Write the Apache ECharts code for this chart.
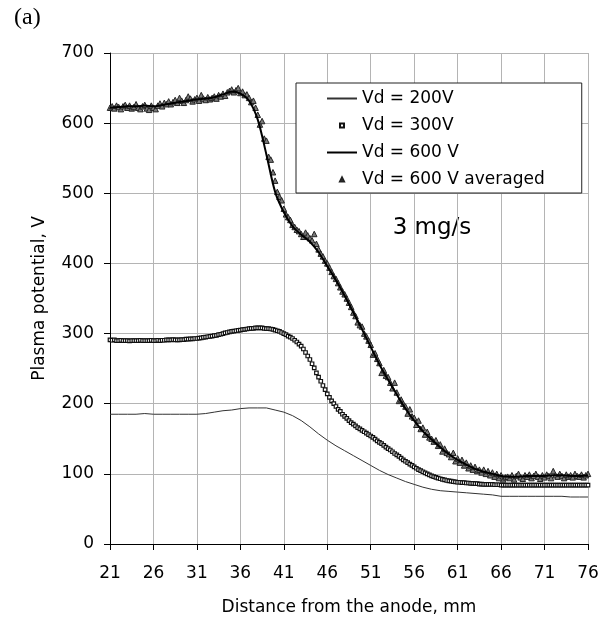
<!DOCTYPE html>
<html><head><meta charset="utf-8">
<script src="https://cdn.jsdelivr.net/npm/echarts@6/dist/echarts.min.js"></script>
<style>html,body{margin:0;padding:0;background:#fff}#c{width:608px;height:618px}</style>
</head><body><div id="c"></div>
<script>
// ---- data ----
const seriesNames = ['Vd = 200V', 'Vd = 300V', 'Vd = 600 V', 'Vd = 600 V averaged'];

// 1 mm sampled distances (mm) for the two solid lines
const distLine = [21,22,23,24,25,26,27,28,29,30,31,32,33,34,35,36,37,38,39,40,
  41,42,43,44,45,46,47,48,49,50,51,52,53,54,55,56,57,58,59,60,
  61,62,63,64,65,66,67,68,69,70,71,72,73,74,75,76];

// Vd = 200V (thin line)
const v200 = [185,185,185,185,186,185,185,185,185,185,
  185,186,188,190,191,193,194,194,194,191,
  188,183,176,167,157,148,140,133,126,119,
  112,105,99,94,89,85,81,78,76,75,
  74,73,72,71,70,68,68,68,68,68,
  68,68,68,67,67,67];

// Vd = 600 V (thick line)
const v600 = [622,623,624,624,625,624,626,628,630,632,
  634,635,637,641,645,642,632,605,555,502,
  473,453,441,431,416,396,376,354,330,306,
  281,256,234,213,193,176,161,149,138,128,
  120,113,107,103,100,97,96,96,97,97,
  97,98,98,97,97,98];

// markers are sampled every 0.25 mm from 21 to 76 mm
const markerStart = 21, markerStep = 0.25;

// Vd = 300V (open squares)
const v300 = [
  291,290.5,291,290, 290,290.5,290,290, 290,289.5,290,290, 290,290,290.5,290,
  290,290,290,290.5, 290,290,290.5,290, 290.5,290.5,291,291, 291,291.5,291,291,
  291,291.5,291.5,292, 292,292.5,292.5,293, 293,293.5,294,294.5, 295,295.5,296,296.5,
  297,297.5,298.5,299, 300,301,301.5,302.5, 303,303.5,304,304.5, 305,305.5,306,306.5,
  307,307.5,307.5,308, 308,308,308,307.5, 307,307,306.5,306, 305,304,303,301.5,
  300,298.5,296.5,295, 293,290.5,288,285, 282,278,273,268, 263,257,251,244,
  238,232,226,220, 214,209,204,200, 196,192,189,185, 182,179,176,173,
  171,168.5,166,164, 162,160,158,156, 154,152,149.5,147, 145,143,140.5,138,
  136,134,131.5,129, 127,125,122.5,120, 118,116,114,112, 110,108,106,104.5,
  103,101.5,100,98.5, 97,96,95,94, 93,92,91.5,90.5, 90,89.5,89,88.5,
  88,88,87.5,87.5, 87,87,86.5,86.5, 86,86,85.5,85.5, 85,85,85,85,
  85,84.5,84.5,84.5, 84,84,84,84, 84,84,84,84, 84,84,84,84,
  84,84,84,84, 84,84,84,84, 84,84,84,84, 84,84,84,84,
  84,84,84,84, 84,84,84,84, 84,84,84,84, 84];

// Vd = 600 V averaged (triangles)
const v600avg = [
  622,624,621,625, 623,620,624,626, 622,625,621,623, 627,622,620,624,
  626,621,619,625, 622,620,625,628, 624,629,627,631, 627,630,633,629,
  636,632,629,633, 638,635,631,634, 636,632,640,635, 633,637,634,636,
  638,635,640,638, 642,639,644,646, 648,644,647,650, 643,645,640,641,
  636,630,632,622, 612,598,603,578, 575,552,548,530, 518,502,495,490,
  478,470,466,462, 455,452,448,446, 442,438,444,440, 436,433,442,428,
  420,414,410,404, 400,394,388,382, 378,372,366,360, 356,350,344,338,
  330,325,316,312, 310,300,296,290, 284,270,272,264, 258,244,248,240,
  238,230,222,230, 216,204,206,200, 196,186,192,182, 180,170,176,164,
  166,156,160,152, 150,146,148,140, 142,132,136,130, 128,124,130,118,
  122,116,120,112, 116,108,112,106, 110,104,106,102, 106,100,104,98,
  102,96,100,94, 98,92,95,96, 94,98,92,97, 100,95,93,98,
  96,99,94,97, 100,96,93,98, 95,99,97,94, 104,98,96,100,
  97,94,99,96, 98,95,100,97, 96,99,95,98, 100];

// axis ranges / ticks
const xMin = 21, xMax = 76, xTickStep = 5;
const yMin = 0, yMax = 700, yTickStep = 100;

// ---- build ----
const pairs = (xs, ys) => ys.map((y, i) => [xs[i], y]);
const markerDist = v300.map((_, i) => markerStart + i * markerStep);

const FONT = 'DejaVu Sans';
const chart = echarts.init(document.getElementById('c'), null, {renderer: 'canvas'});
chart.setOption({
  animation: false,
  backgroundColor: '#fff',
  textStyle: {fontFamily: FONT},
  grid: {left: 110, right: 20, top: 53, bottom: 74, containLabel: false, outerBoundsMode: 'none'},
  legend: {
    left: 296, top: 83, orient: 'vertical',
    padding: [7, 37, 5, 30],
    itemGap: 10, itemWidth: 30, itemHeight: 5,
    backgroundColor: '#fff', borderColor: '#222', borderWidth: 1,
    textStyle: {fontFamily: FONT, fontSize: 17, color: '#000'},
    data: [
      {name: seriesNames[0], itemStyle: {opacity: 0}},
      {name: seriesNames[1]},
      {name: seriesNames[2], itemStyle: {opacity: 0}},
      {name: seriesNames[3]}
    ]
  },
  xAxis: {
    type: 'value', min: xMin, max: xMax, interval: xTickStep,
    name: 'Distance from the anode, mm', nameLocation: 'middle', nameGap: 55,
    nameTextStyle: {fontFamily: FONT, fontSize: 17, color: '#000'},
    axisLine: {show: true, onZero: false, lineStyle: {color: '#000', width: 1}},
    axisTick: {show: true, inside: false, length: 6, lineStyle: {color: '#000'}},
    axisLabel: {fontFamily: FONT, fontSize: 17, color: '#000', margin: 21},
    splitLine: {show: true, lineStyle: {color: '#b4b4b4', width: 1}}
  },
  yAxis: {
    type: 'value', min: yMin, max: yMax, interval: yTickStep,
    name: 'Plasma potential, V', nameLocation: 'middle', nameGap: 62,
    nameTextStyle: {fontFamily: FONT, fontSize: 17, color: '#000'},
    axisLine: {show: true, lineStyle: {color: '#000', width: 1}},
    axisTick: {show: true, inside: false, length: 6, lineStyle: {color: '#000'}},
    axisLabel: {fontFamily: FONT, fontSize: 17, color: '#000', margin: 16},
    splitLine: {show: true, lineStyle: {color: '#b4b4b4', width: 1}}
  },
  graphic: [
    {type: 'text', left: 14, top: 6, style: {text: '(a)', font: '24px "Liberation Serif"', fill: '#000'}},
    {type: 'text', x: 432, y: 228, style: {text: '3 mg/s', font: '23px "DejaVu Sans"', fill: '#000', textAlign: 'center', textVerticalAlign: 'middle'}}
  ],
  series: [
    {
      name: seriesNames[0], type: 'line', data: pairs(distLine, v200),
      symbol: 'none', lineStyle: {color: '#333', width: 1}, itemStyle: {color: '#333'}, z: 2
    },
    {
      name: seriesNames[1], type: 'line', data: pairs(markerDist, v300),
      symbol: 'rect', symbolSize: 3.5, showSymbol: true, showAllSymbol: true,
      lineStyle: {width: 0, opacity: 0},
      itemStyle: {color: '#fff', borderColor: '#111', borderWidth: 1.2}, z: 3
    },
    {
      name: seriesNames[3], type: 'line', data: pairs(markerDist, v600avg),
      symbol: 'triangle', symbolSize: 5.5, showSymbol: true, showAllSymbol: true,
      lineStyle: {width: 0, opacity: 0},
      itemStyle: {color: '#7a7a7a', borderColor: '#222', borderWidth: 1}, z: 4
    },
    {
      name: seriesNames[2], type: 'line', data: pairs(distLine, v600),
      symbol: 'none', smooth: 0.3, lineStyle: {color: '#000', width: 2}, itemStyle: {color: '#000'}, z: 5
    }
  ]
});
</script></body></html>
